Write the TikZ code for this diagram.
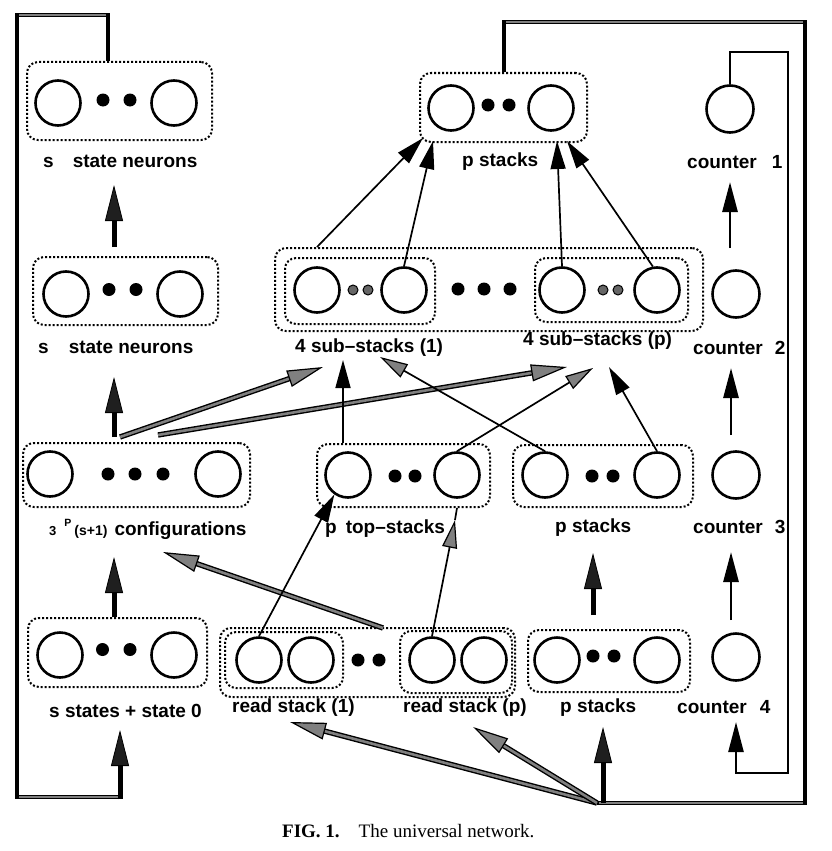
\documentclass[tikz,border=0pt]{standalone}
\usepackage{fontspec}
\setsansfont{Liberation Sans}
\newfontfamily\capfont{Liberation Serif}
\usetikzlibrary{arrows.meta,calc}
\newcommand{\labfont}{\fontsize{19}{20}\selectfont\sffamily\bfseries}
\colorlet{hatchgray}{black!50}
\begin{document}
\begin{tikzpicture}[x=1pt,y=-1pt,
  neuron/.style={circle,draw,line width=2.6pt,inner sep=0pt,minimum size=45pt},
  cneuron/.style={neuron,minimum size=47pt},
  bigdot/.style={circle,fill=black,inner sep=0pt,minimum size=13pt},
  smalldot/.style={circle,draw=black,line width=1pt,fill=black!60,inner sep=0pt,minimum size=10pt},
  dbox/.style={draw,rounded corners=11pt,line width=2pt,dash pattern=on 2pt off 2pt,inner sep=0pt},
  lbl/.style={anchor=base west,inner sep=0pt,font=\labfont},
  thickarrow/.style={line width=5pt,-{Triangle[length=36pt,width=18pt,line width=0.8pt,color=black,fill=black!88]}},
  hatcharrow/.style={draw=hatchgray,line width=2.6pt,preaction={draw=black,line width=5.4pt,-,shorten >=16pt},-{Triangle[length=36pt,width=17pt,line width=1.2pt,color=black,fill=hatchgray]}},
  thinarrow/.style={line width=1.7pt,-{Triangle[length=28pt,width=15pt]}},
  thinhatch/.style={line width=1.7pt,-{Triangle[length=28pt,width=15pt,line width=1.2pt,fill=hatchgray]}},
  cntarrow/.style={line width=2.8pt,-{Triangle[length=30pt,width=15pt]}},
  loopline/.style={line width=4.8pt,line join=miter},
  loopfill/.style={draw=hatchgray,line width=2.2pt,shorten <=2.4pt,shorten >=2.4pt},
  cloop/.style={line width=2.4pt,-{Triangle[length=30pt,width=15pt]}}
]
\path[use as bounding box] (0,0) rectangle (831,851);

% ---------------- Row 1
\node[dbox,minimum width=185pt,minimum height=78pt] (A1) at (119.5,101) {};
\node[neuron] (a1l) at (58,103) {};
\node[neuron] (a1r) at (174,103) {};
\node[bigdot] (a1d1) at (103,100) {};
\node[bigdot] (a1d2) at (130,100) {};
\node[lbl] (labA1) at (43,167) {s\hspace{19pt}state neurons};

\node[dbox,minimum width=167pt,minimum height=69pt] (P1) at (503.5,107.5) {};
\node[neuron] (p1l) at (451,108) {};
\node[neuron] (p1r) at (551,108) {};
\node[bigdot] (p1d1) at (488,105) {};
\node[bigdot] (p1d2) at (509,105) {};
\node[lbl] (labP1) at (462,166) {p stacks};

\node[cneuron] (c1) at (730,109) {};
\node[lbl] (labc1) at (687,168) {counter\hspace{15pt}1};

% ---------------- Row 2
\node[dbox,minimum width=185pt,minimum height=68pt] (A2) at (125.5,291) {};
\node[neuron] (a2l) at (66,294) {};
\node[neuron] (a2r) at (180,294) {};
\node[bigdot] (a2d1) at (109,289.5) {};
\node[bigdot] (a2d2) at (136,289.5) {};
\node[lbl] (labA2) at (38,353) {s\hspace{20pt}state neurons};

\node[dbox,minimum width=428pt,minimum height=83pt] (SS) at (489,289.5) {};
\node[dbox,minimum width=150pt,minimum height=66pt] (SS1) at (360,291) {};
\node[dbox,minimum width=153pt,minimum height=64pt] (SSp) at (611.5,290) {};
\node[neuron] (s1l) at (317,290) {};
\node[neuron] (s1r) at (404,290) {};
\node[smalldot] (s1d1) at (353,290) {};
\node[smalldot] (s1d2) at (368,290) {};
\node[bigdot] (ssd1) at (458,289) {};
\node[bigdot] (ssd2) at (484,289) {};
\node[bigdot] (ssd3) at (510,289) {};
\node[neuron] (spl) at (562,290) {};
\node[neuron] (spr) at (657,290) {};
\node[smalldot] (spd1) at (603,290) {};
\node[smalldot] (spd2) at (618,290) {};
\node[lbl] (labS1) at (295,352) {4 sub--stacks (1)};
\node[lbl] (labSp) at (523,345) {4 sub--stacks (p)};

\node[cneuron] (c2) at (736,294) {};
\node[lbl] (labc2) at (693,354) {counter\hspace{12pt}2};

% ---------------- Row 3
\node[dbox,minimum width=227pt,minimum height=64pt] (C) at (136.5,475) {};
\node[neuron] (cl) at (50,474) {};
\node[neuron] (cr) at (218,474) {};
\node[bigdot] (cd1) at (108,474) {};
\node[bigdot] (cd2) at (135,474) {};
\node[bigdot] (cd3) at (163,474) {};
\node[lbl] (labC) at (49,535) {{\fontsize{13}{13}\selectfont 3\hspace{8pt}\raisebox{9pt}{\fontsize{10.5}{11}\selectfont P}\hspace{3pt}\fontsize{14}{14}\selectfont(s+1)}\hspace{7pt}configurations};

\node[dbox,minimum width=173pt,minimum height=63pt] (T) at (403.5,475.5) {};
\node[neuron] (tl) at (348,475) {};
\node[neuron] (tr) at (457,475) {};
\node[bigdot] (td1) at (395,476) {};
\node[bigdot] (td2) at (415,476) {};
\node[lbl] (labT) at (325,533) {p\hspace{9pt}top--stacks};

\node[dbox,minimum width=180pt,minimum height=62pt] (PS3) at (603,476) {};
\node[neuron] (q3l) at (545,475) {};
\node[neuron] (q3r) at (657,475) {};
\node[bigdot] (q3d1) at (592,476) {};
\node[bigdot] (q3d2) at (613,476) {};
\node[lbl] (labPS3) at (555,532) {p stacks};

\node[cneuron] (c3) at (736,475) {};
\node[lbl] (labc3) at (693,533) {counter\hspace{12pt}3};

% ---------------- Row 4
\node[dbox,minimum width=179pt,minimum height=69pt] (S4) at (117.5,652.5) {};
\node[neuron] (s4l) at (60,655) {};
\node[neuron] (s4r) at (174,655) {};
\node[bigdot] (s4d1) at (102.5,649.5) {};
\node[bigdot] (s4d2) at (130,649.5) {};
\node[lbl] (labS4) at (49,717) {s states + state 0};

\node[dbox,minimum width=295pt,minimum height=69pt] (R) at (367.5,662.5) {};
\node[dbox,minimum width=118pt,minimum height=56pt] (R1) at (284,660) {};
\node[dbox,minimum width=112pt,minimum height=62pt] (Rp) at (456,662) {};
\node[neuron] (r1a) at (259,660) {};
\node[neuron] (r1b) at (311,660) {};
\node[bigdot] (rd1) at (358,660) {};
\node[bigdot] (rd2) at (379,660) {};
\node[neuron] (rpa) at (432,660) {};
\node[neuron] (rpb) at (484,660) {};
\node[lbl] (labR1) at (232,712) {read stack (1)};
\node[lbl] (labRp) at (403,712) {read stack (p)};

\node[dbox,minimum width=162pt,minimum height=62pt] (PS4) at (609,661) {};
\node[neuron] (q4l) at (557,660) {};
\node[neuron] (q4r) at (657,660) {};
\node[bigdot] (q4d1) at (593,656) {};
\node[bigdot] (q4d2) at (614,656) {};
\node[lbl] (labPS4) at (560,712) {p stacks};

\node[cneuron] (c4) at (736,657) {};
\node[lbl] (labc4) at (677,713) {counter\hspace{13pt}4};

% caption
\node[anchor=base west,inner sep=0pt,font=\capfont\fontsize{19}{20}\selectfont] (cap) at (282,837) {\textbf{FIG. 1.}\hspace{19pt}The universal network.};

% ---------------- loops
\coordinate (la) at (108,15); \coordinate (lb) at (17,15);
\coordinate (lc) at (17,797); \coordinate (ld) at (120,797);
\coordinate (le) at (120,730);
\draw[loopline] (A1.north -| la) -- (la) -- (lb) -- (lc) -- (ld);
\draw[loopfill] (la) -- (lb);
\draw[loopfill] (lc) -- (ld);
\draw[thickarrow] ($(ld)+(0,2.4)$) -- (le);

\coordinate (ra) at (504,22); \coordinate (rb) at (805,22);
\coordinate (rc) at (805,803); \coordinate (rd) at (597,803);
\draw[loopline] (P1.north -| ra) -- (ra) -- (rb) -- (rc) -- (rd);
\draw[loopfill] (ra) -- (rb);
\draw[loopfill] (rc) -- (rd);

\coordinate (ka) at (730,52); \coordinate (kb) at (788,52);
\coordinate (kc) at (788,773); \coordinate (kd) at (736,773);
\coordinate (ke) at (736,722);
\draw[cloop] (c1.north) -- (ka) -- (kb) -- (kc) -- (kd) -- (ke);

% ---------------- vertical thick arrows (left column, p stacks)
\coordinate (v1s) at (114,247); \coordinate (v1t) at (114,185);
\coordinate (v2s) at (114,437); \coordinate (v2t) at (114,377);
\coordinate (v3s) at (114,617); \coordinate (v3t) at (114,557);
\coordinate (v4s) at (593,615); \coordinate (v4t) at (593,553);
\coordinate (re) at (603,803);  \coordinate (v5t) at (603,727);
\draw[thickarrow] (v1s) -- (v1t);
\draw[thickarrow] (v2s) -- (v2t);
\draw[thickarrow] (v3s) -- (v3t);
\draw[thickarrow] (v4s) -- (v4t);
\draw[thickarrow] (re) -- (v5t);

% counter arrows
\coordinate (k1s) at (730,248); \coordinate (k1t) at (730,182);
\coordinate (k2s) at (731,435); \coordinate (k2t) at (731,368);
\coordinate (k3s) at (731,620); \coordinate (k3t) at (731,552);
\draw[cntarrow] (k1s) -- (k1t);
\draw[cntarrow] (k2s) -- (k2t);
\draw[cntarrow] (k3s) -- (k3t);

% ---------------- hatched arrows
\coordinate (h1s) at (120,437); \coordinate (h1t) at (323,367);
\coordinate (h2s) at (158,435); \coordinate (h2t) at (567,367);
\coordinate (h3s) at (383,628); \coordinate (h3t) at (163,552);
\coordinate (h4t) at (290,722);
\coordinate (h5t) at (473,727);
\draw[hatcharrow] (h1s) -- (h1t);
\draw[hatcharrow] (h2s) -- (h2t);
\draw[hatcharrow] (h3s) -- (h3t);
\draw[hatcharrow] (rd) -- (h4t);
\draw[hatcharrow] (rd) -- (h5t);

% ---------------- thin arrows to top p stacks
\coordinate (p1t1) at (423,138);
\coordinate (p1t2) at (433,141);
\coordinate (p1t3) at (557,141);
\coordinate (p1t4) at (567,141);
\draw[thinarrow] (SS.north -| s1l) -- (p1t1);
\draw[thinarrow] (s1r.north) -- (p1t2);
\draw[thinarrow] (spl.north) -- (p1t3);
\draw[thinarrow] (spr.100) -- (p1t4);

% ---------------- thin arrows row 3 -> row 2
\coordinate (u1) at (343,360);
\coordinate (u2) at (593,368);
\coordinate (u3) at (380,357);
\coordinate (u4) at (609,367);
\draw[thinarrow] (T.north -| u1) -- (u1);
\draw[thinhatch] (tr.north) -- (u2);
\draw[thinhatch] (q3l.north) -- (u3);
\draw[thinarrow] (q3r.north) -- (u4);

% ---------------- thin arrows row 4 -> row 3
\draw[thinarrow] (r1a.north) -- (tl.235);
\coordinate (w1) at (455,520);
\draw[line width=1.7pt] (w1) -- (T.south -| tr);
\draw[thinhatch] (rpa.north) -- (w1);

\end{tikzpicture}
\end{document}
